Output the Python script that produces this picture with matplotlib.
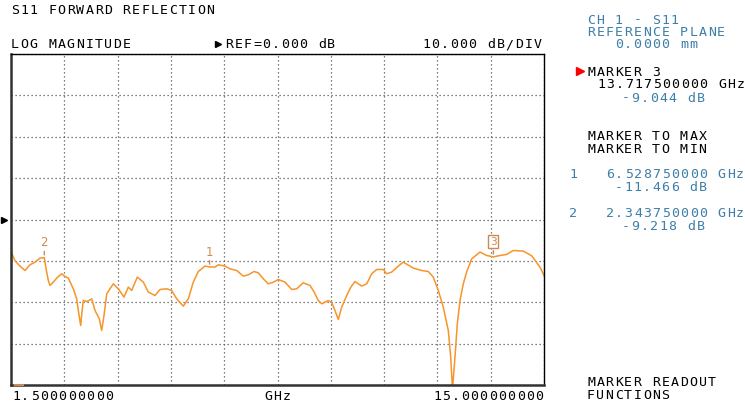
import matplotlib
matplotlib.use("Agg")
import matplotlib.pyplot as plt
import numpy as np

# S11 trace (GHz, dB)
freq_ghz = [1.500, 1.525, 1.600, 1.728, 1.855, 1.980, 2.110, 2.235, 2.344, 2.361,
            2.404, 2.445, 2.488, 2.571, 2.665, 2.784, 2.868, 2.951, 3.078, 3.164,
            3.205, 3.265, 3.298, 3.331, 3.432, 3.544, 3.628, 3.737, 3.797, 3.856,
            3.924, 4.091, 4.218, 4.362, 4.471, 4.557, 4.699, 4.851, 4.978, 5.147,
            5.274, 5.444, 5.570, 5.697, 5.864, 5.991, 6.117, 6.244, 6.414, 6.529,
            6.667, 6.751, 6.920, 7.047, 7.217, 7.384, 7.510, 7.655, 7.764, 7.890,
            8.017, 8.136, 8.270, 8.440, 8.610, 8.736, 8.903, 9.073, 9.175, 9.283,
            9.370, 9.537, 9.623, 9.706, 9.790, 9.876, 10.003, 10.112, 10.213, 10.383,
            10.509, 10.636, 10.763, 10.930, 11.016, 11.142, 11.310, 11.436, 11.690, 11.902,
            12.069, 12.196, 12.323, 12.449, 12.576, 12.637, 12.682, 12.746, 12.804, 12.873,
            12.956, 13.043, 13.169, 13.379, 13.549, 13.718, 13.885, 14.055, 14.222, 14.475,
            14.688, 14.898, 15.000]
s11_db = [-7.25, -8.29, -9.98, -11.26, -12.33, -10.95, -10.30, -9.33, -9.22, -10.30,
          -12.71, -14.74, -15.95, -15.13, -14.09, -13.12, -13.78, -14.16, -16.75, -19.17,
          -21.99, -25.62, -22.31, -19.58, -19.82, -19.17, -21.99, -24.00, -26.83, -23.20,
          -17.96, -15.54, -16.75, -18.76, -16.34, -17.16, -13.92, -15.13, -17.55, -18.37,
          -16.92, -16.75, -17.16, -19.17, -20.93, -19.17, -15.13, -12.57, -11.26, -11.47,
          -11.50, -10.95, -11.26, -11.92, -12.33, -13.68, -13.37, -12.57, -12.88, -14.33,
          -15.54, -15.18, -14.50, -15.13, -16.92, -16.75, -15.30, -15.95, -17.47, -19.58,
          -20.37, -19.58, -20.13, -21.99, -24.17, -21.17, -18.37, -16.27, -14.99, -16.10,
          -15.54, -13.12, -12.08, -12.08, -13.12, -12.71, -11.26, -10.30, -11.75, -12.33,
          -12.57, -13.92, -17.16, -21.17, -26.83, -33.18, -41.00, -33.18, -25.21, -19.58,
          -15.54, -12.64, -9.50, -7.88, -8.70, -9.04, -8.70, -8.46, -7.49, -7.64,
          -8.77, -11.50, -13.53]

# markers: number, freq, value
marker_num = ["1", "2", "3"]
marker_freq = [6.52875, 2.34375, 13.7175]
marker_db = [-11.466, -9.218, -9.044]

W, H = 745, 406
fig = plt.figure(figsize=(W / 100, H / 100), dpi=100)
fig.patch.set_facecolor("white")

# plot box in pixels: x 11..544, y 55..386
ax = fig.add_axes([11 / W, (H - 386) / H, 533 / W, 331 / H])
ax.plot(freq_ghz, s11_db, color="#f7942a", lw=1.1)
ax.set_xlim(1.5, 15.0)
ax.set_ylim(-40, 40)
ax.set_xticks(np.linspace(1.5, 15.0, 11))
ax.set_yticks(np.arange(-40, 41, 10))
ax.grid(True, color="#555555", lw=0.9, ls=(0, (1, 2.2)))
ax.tick_params(length=0, labelbottom=False, labelleft=False)
for side in ["top", "right"]:
    ax.spines[side].set_linewidth(1.0)
for side in ["left", "bottom"]:
    ax.spines[side].set_linewidth(1.8)
    ax.spines[side].set_color("#333333")

mcol = "#c98c55"
for n, f, d in zip(marker_num, marker_freq, marker_db):
    ax.annotate("", xy=(f, d), xytext=(f, d + 2.2),
                arrowprops=dict(arrowstyle="-", color=mcol, lw=1))
    if n == "3":
        ax.text(f, d + 3.8, n, color=mcol, ha="center", va="center", fontsize=8,
                family="DejaVu Sans Mono",
                bbox=dict(boxstyle="square,pad=0.15", fc="white", ec=mcol, lw=1))
    else:
        ax.text(f, d + 3.8, n, color=mcol, ha="center", va="center", fontsize=8.5,
                family="DejaVu Sans")

# overlay axes in pixel coords for the screen text
tx = fig.add_axes([0, 0, 1, 1], facecolor="none")
tx.set_xlim(0, W)
tx.set_ylim(H, 0)
tx.axis("off")

pitch = 9.3
def vna_text(x, y, s, color="black"):
    # bitmap-style text: every char on a fixed pitch
    for i, ch in enumerate(s):
        tx.text(x + i * pitch, y, ch, color=color, fontsize=9.5,
                family="DejaVu Sans Mono", ha="left", va="center")

blue = "#3d7fa8"
vna_text(11, 11, "S11 FORWARD REFLECTION")
vna_text(11, 45, "LOG MAGNITUDE")
vna_text(225, 45, "REF=0.000 dB")
tx.plot([218], [45], marker=">", color="black", ms=4)
vna_text(422, 45, "10.000 dB/DIV")
vna_text(12, 397, "1.500000000")
vna_text(264, 397, "GHz")
vna_text(433, 397, "15.000000000")
tx.plot([4], [221], marker=">", color="black", ms=4)
tx.plot([15, 23], [386, 386], color="#c98c55", lw=1.5)

vna_text(587, 20, "CH 1 - S11", blue)
vna_text(587, 33, "REFERENCE PLANE", blue)
vna_text(615, 45, "0.0000 mm", blue)
tx.plot([580], [72], marker=">", color="red", ms=6)
vna_text(587, 72, "MARKER 3")
vna_text(597, 85, "13.717500000 GHz")
vna_text(622, 98, "-9.044 dB", blue)
vna_text(587, 137, "MARKER TO MAX")
vna_text(587, 150, "MARKER TO MIN")
vna_text(569, 175, "1", blue)
vna_text(606, 175, "6.528750000 GHz", blue)
vna_text(615, 188, "-11.466 dB", blue)
vna_text(569, 214, "2", blue)
vna_text(606, 214, "2.343750000 GHz", blue)
vna_text(622, 227, "-9.218 dB", blue)
vna_text(587, 383, "MARKER READOUT")
vna_text(587, 396, "FUNCTIONS")

fig.savefig("out.png", dpi=100)
